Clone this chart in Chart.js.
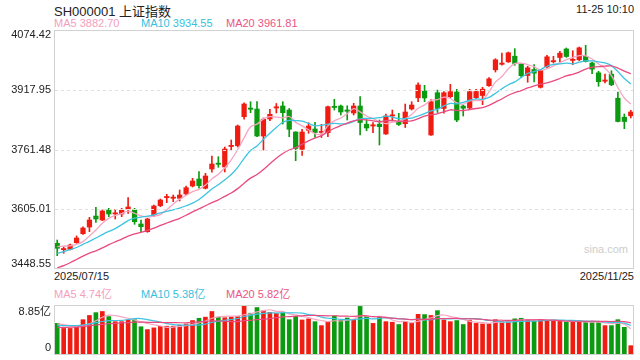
<!DOCTYPE html>
<html><head><meta charset="utf-8">
<script src="https://cdn.jsdelivr.net/npm/chart.js@4.4.1/dist/chart.umd.min.js"></script>
<style>
html,body{margin:0;padding:0;background:#fff;}
body{width:640px;height:360px;position:relative;overflow:hidden;font-family:"Liberation Sans",Arial,"Noto Sans CJK SC",sans-serif;color:#222;}
.t{position:absolute;white-space:nowrap;font-size:11px;line-height:13px;}
canvas{position:absolute;left:0;}
#pc{top:0;}
#vc{top:300px;}
</style></head><body>
<div class="t" style="left:54px;top:4px;font-size:13px;line-height:15px;color:#222">SH000001 上证指数</div>
<div class="t" style="right:6px;top:3px;color:#222">11-25 10:10</div>
<div class="t" style="left:54px;top:17px;color:#f49ebd">MA5 3882.70</div>
<div class="t" style="left:141px;top:17px;color:#36c1dc">MA10 3934.55</div>
<div class="t" style="left:226px;top:17px;color:#ea5584">MA20 3961.81</div>
<div class="t" id="d0" style="left:54px;top:270px;color:#222"></div>
<div class="t" id="d1" style="right:6px;top:270px;color:#222"></div>
<div class="t" style="left:54px;top:288px;color:#f49ebd">MA5 4.74亿</div>
<div class="t" style="left:141px;top:288px;color:#36c1dc">MA10 5.38亿</div>
<div class="t" style="left:226px;top:288px;color:#ea5584">MA20 5.82亿</div>
<div class="t" style="left:584px;top:243px;color:#cdcdcd">sina.com</div>
<canvas id="pc" width="640" height="272" style="width:640px;height:272px"></canvas>
<canvas id="vc" width="640" height="60" style="width:640px;height:60px"></canvas>
<script>
const dates = [
"2025/07/15","2025/07/16","2025/07/17","2025/07/18","2025/07/21","2025/07/22","2025/07/23","2025/07/24","2025/07/25","2025/07/28","2025/07/29","2025/07/30","2025/07/31",
"2025/08/01","2025/08/04","2025/08/05","2025/08/06","2025/08/07","2025/08/08","2025/08/11","2025/08/12","2025/08/13","2025/08/14","2025/08/15","2025/08/18","2025/08/19","2025/08/20","2025/08/21","2025/08/22","2025/08/25","2025/08/26","2025/08/27","2025/08/28","2025/08/29",
"2025/09/01","2025/09/02","2025/09/03","2025/09/04","2025/09/05","2025/09/08","2025/09/09","2025/09/10","2025/09/11","2025/09/12","2025/09/15","2025/09/16","2025/09/17","2025/09/18","2025/09/19","2025/09/22","2025/09/23","2025/09/24","2025/09/25","2025/09/26","2025/09/29","2025/09/30",
"2025/10/09","2025/10/10","2025/10/13","2025/10/14","2025/10/15","2025/10/16","2025/10/17","2025/10/20","2025/10/21","2025/10/22","2025/10/23","2025/10/24","2025/10/27","2025/10/28","2025/10/29","2025/10/30","2025/10/31",
"2025/11/03","2025/11/04","2025/11/05","2025/11/06","2025/11/07","2025/11/10","2025/11/11","2025/11/12","2025/11/13","2025/11/14","2025/11/17","2025/11/18","2025/11/19","2025/11/20","2025/11/21","2025/11/24","2025/11/25"];

const opens = [3515.9,3499.1,3500.1,3517.4,3541.0,3558.5,3587.3,3576.9,3603.1,3592.6,3592.6,3605.7,3603.1,3566.4,3546.2,3590.0,3614.3,3635.3,3633.7,3633.7,3645.0,3665.9,3684.2,3659.9,3710.4,3725.3,3715.7,3769.3,3771.4,3847.4,3868.3,3867.5,3796.8,3841.4,3870.2,3875.4,3864.9,3807.3,3762.0,3811.8,3815.2,3806.0,3805.5,3874.6,3875.4,3864.9,3857.1,3875.4,3827.7,3823.0,3827.7,3802.1,3849.2,3834.8,3829.1,3867.5,3896.9,3914.7,3799.5,3910.2,3868.9,3899.8,3912.1,3875.4,3870.2,3897.1,3902.9,3928.6,3970.2,3984.6,3991.1,4005.8,3985.4,3955.3,3971.0,3924.4,3978.1,3991.1,4002.4,4024.7,3994.6,3996.4,4005.6,3988.0,3962.3,3940.3,3958.7,3895.8,3846.1,3849.7];
const highs = [3524.5,3507.0,3514.0,3535.0,3559.3,3583.9,3610.1,3603.1,3607.5,3604.9,3607.5,3635.3,3607.5,3576.9,3581.3,3616.2,3631.9,3644.2,3642.3,3655.4,3665.9,3686.1,3703.4,3699.2,3744.5,3742.6,3768.0,3786.4,3825.6,3884.0,3886.7,3886.7,3844.0,3866.8,3881.9,3886.7,3868.9,3808.1,3814.6,3831.7,3832.7,3827.5,3875.4,3892.9,3878.0,3875.9,3882.5,3899.8,3838.7,3831.7,3838.7,3854.5,3864.9,3856.3,3880.6,3886.7,3936.4,3929.6,3892.4,3917.3,3912.9,3932.2,3919.1,3878.0,3919.1,3919.1,3924.4,3950.0,3999.3,4014.2,4016.8,4025.5,3986.2,3979.4,3983.6,3970.5,4008.2,4005.6,4018.6,4027.3,4020.2,4029.9,4034.4,3990.6,3966.3,3959.2,3967.8,3912.1,3854.5,3864.1];
const lows = [3483.4,3489.7,3498.3,3515.9,3539.4,3546.2,3570.8,3575.0,3585.5,3579.5,3585.5,3594.4,3565.6,3546.2,3544.7,3585.5,3611.7,3622.2,3624.8,3626.6,3642.3,3663.3,3659.9,3658.1,3701.8,3714.9,3702.6,3758.3,3768.0,3840.6,3857.9,3795.0,3760.2,3836.9,3857.1,3828.3,3795.0,3732.2,3745.8,3803.9,3793.4,3792.9,3795.0,3864.9,3851.8,3838.7,3851.8,3799.5,3810.7,3805.5,3773.3,3800.8,3836.1,3824.3,3819.1,3864.9,3886.7,3886.7,3798.2,3858.4,3856.3,3897.1,3834.3,3849.2,3867.5,3893.7,3878.8,3926.5,3964.4,3982.0,3989.3,3982.0,3950.0,3937.5,3938.3,3922.5,3974.9,3988.0,3990.6,4002.9,3983.6,3994.0,3990.6,3960.0,3927.0,3935.6,3928.6,3833.5,3816.0,3844.0];
const closes = [3502.8,3500.9,3511.4,3529.7,3555.9,3576.9,3579.5,3600.4,3592.6,3594.4,3602.3,3610.9,3572.4,3559.3,3579.5,3613.5,3629.2,3637.9,3635.3,3642.3,3661.5,3679.0,3666.7,3692.1,3723.5,3722.7,3762.8,3772.0,3823.0,3880.6,3866.8,3796.8,3840.6,3853.7,3872.8,3857.9,3814.4,3764.1,3807.3,3823.0,3806.0,3808.6,3873.6,3871.5,3859.7,3861.5,3875.4,3832.2,3817.8,3825.6,3821.2,3849.2,3851.3,3827.0,3859.7,3878.0,3930.4,3896.4,3886.7,3868.9,3910.2,3912.9,3838.7,3869.4,3912.9,3913.4,3919.4,3946.6,3996.4,3986.7,4014.7,3986.7,3954.7,3975.4,3961.3,3968.4,4004.2,3993.2,4013.7,4005.0,3996.4,4027.8,3991.9,3971.8,3939.0,3942.2,3930.9,3834.8,3834.8,3859.7];
// closes of the 19 sessions before 2025/07/15, only used to seed the moving averages
const priorCloses = [3388.8,3362.1,3359.9,3381.6,3420.6,3455.9,3448.5,3424.2,3444.4,3457.8,3454.8,3461.2,3472.3,3473.1,3497.5,3493.1,3509.7,3510.2,3519.7];

// volume, 亿
const volumes = [5.6,4.7,4.7,4.9,6.25,7.0,7.5,7.7,6.8,5.9,5.9,6.2,6.25,5.0,4.5,4.8,5.1,5.1,5.1,5.25,5.5,6.1,6.5,6.7,7.7,6.7,6.6,6.7,6.8,8.85,7.4,8.4,7.85,7.55,7.4,7.4,6.25,6.85,6.2,6.4,5.9,5.2,5.9,6.9,6.2,6.55,6.25,8.6,6.85,5.6,6.85,5.9,5.8,5.4,5.9,5.6,7.2,7.15,7.0,7.85,6.2,5.9,6.1,5.4,6.1,5.6,5.5,5.5,6.25,5.9,6.1,6.4,6.5,6.2,6.0,6.2,6.1,6.2,6.0,5.8,5.8,5.9,5.8,5.8,5.8,5.2,5.2,6.25,4.9,1.65];
const priorVolumes = [4.2,4.0,4.3,4.1,4.5,4.9,5.3,4.8,4.4,4.6,4.8,4.7,4.9,5.2,5.0,5.4,5.6,5.3,5.6];

const priceTicks = [3448.55,3605.01,3761.48,3917.95,4074.42];
const priceTickLabels = ["3448.55","3605.01","3761.48","3917.95","4074.42"];
const volTicks = [0,8.85];
const volTickLabels = ["0","8.85亿"];

const UP = '#f01c12', DOWN = '#0c9a10';
const C5 = '#f6a6c3', C10 = '#3cc4e0', C20 = '#e94a80';

function sma(vals, prior, n){
  const all = prior.concat(vals);
  return vals.map((_, i) => {
    const end = prior.length + i + 1;
    const s = all.slice(Math.max(0, end - n), end);
    return s.reduce((a,b)=>a+b,0)/s.length;
  });
}

document.getElementById('d0').textContent = dates[0];
document.getElementById('d1').textContent = dates[dates.length-1];

const candleColor = closes.map((c,i) => c >= opens[i] ? UP : DOWN);

const framePlugin = {
  id: 'frame',
  afterDraw(chart, args, o){
    const {ctx, chartArea:a} = chart;
    const y = chart.scales.y;
    ctx.save();
    ctx.lineWidth = 1;
    ctx.strokeStyle = '#e0e0e0';
    ctx.setLineDash([3,3]);
    (o.grid||[]).forEach(v => {
      const py = Math.round(y.getPixelForValue(v)) + 0.5;
      ctx.beginPath(); ctx.moveTo(a.left+1, py); ctx.lineTo(a.right-1, py); ctx.stroke();
    });
    ctx.setLineDash([]);
    ctx.strokeStyle = '#d2d2d2';
    ctx.strokeRect(Math.round(a.left)+0.5, Math.round(a.top)+0.5, Math.round(a.right-a.left)-1, Math.round(a.bottom-a.top)-1);
    ctx.fillStyle = '#222';
    ctx.font = '11px "Liberation Sans", Arial, "Noto Sans CJK SC", sans-serif';
    ctx.textAlign = 'right';
    ctx.textBaseline = 'middle';
    o.values.forEach((v,i) => {
      const py = y.getPixelForValue(v) + o.offsets[i];
      ctx.fillText(o.labels[i], a.left - 3, py);
    });
    ctx.restore();
  }
};

function candleDatasets(){
  return [
    {type:'bar', data: lows.map((l,i)=>[l, highs[i]]), backgroundColor: candleColor, barThickness: 1, grouped:false, order:3},
    {type:'bar', data: opens.map((op,i)=>[op, closes[i]]), backgroundColor: candleColor, barThickness: 4.6, minBarLength: 1.2, grouped:false, order:2},
    {type:'line', data: sma(closes, priorCloses, 20), borderColor: C20, borderWidth: 1.3, pointRadius:0, tension:0.3, order:1},
    {type:'line', data: sma(closes, priorCloses, 10), borderColor: C10, borderWidth: 1.3, pointRadius:0, tension:0.3, order:1},
    {type:'line', data: sma(closes, priorCloses, 5), borderColor: C5, borderWidth: 1.3, pointRadius:0, tension:0.3, order:1}
  ];
}

new Chart(document.getElementById('pc'), {
  type:'bar',
  data:{labels: dates, datasets: candleDatasets()},
  options:{
    responsive:false, animation:false, devicePixelRatio:1,
    layout:{padding:{left:54, right:6, top:30, bottom:3}},
    plugins:{legend:{display:false}, tooltip:{enabled:false},
      frame:{values: priceTicks, labels: priceTickLabels, offsets:[-5,0,0,0,4.5], grid: priceTicks.slice(1,-1)}},
    scales:{
      x:{type:'category', display:false, offset:true},
      y:{type:'linear', display:false, min: priceTicks[0], max: priceTicks[priceTicks.length-1]}
    }
  },
  plugins:[framePlugin]
});

new Chart(document.getElementById('vc'), {
  type:'bar',
  data:{labels: dates, datasets:[
    {type:'bar', data: volumes, backgroundColor: candleColor, barThickness: 4, grouped:false, order:2},
    {type:'line', data: sma(volumes, priorVolumes, 20), borderColor: C20, borderWidth: 1.2, pointRadius:0, tension:0.3, order:1},
    {type:'line', data: sma(volumes, priorVolumes, 10), borderColor: C10, borderWidth: 1.2, pointRadius:0, tension:0.3, order:1},
    {type:'line', data: sma(volumes, priorVolumes, 5), borderColor: C5, borderWidth: 1.2, pointRadius:0, tension:0.3, order:1}
  ]},
  options:{
    responsive:false, animation:false, devicePixelRatio:1,
    layout:{padding:{left:54, right:6, top:5, bottom:5}},
    plugins:{legend:{display:false}, tooltip:{enabled:false},
      frame:{values: volTicks, labels: volTickLabels, offsets:[-7,7], grid: []}},
    scales:{
      x:{type:'category', display:false, offset:true},
      y:{type:'linear', display:false, min: volTicks[0], max: volTicks[1]}
    }
  },
  plugins:[framePlugin]
});
</script>
</body></html>
